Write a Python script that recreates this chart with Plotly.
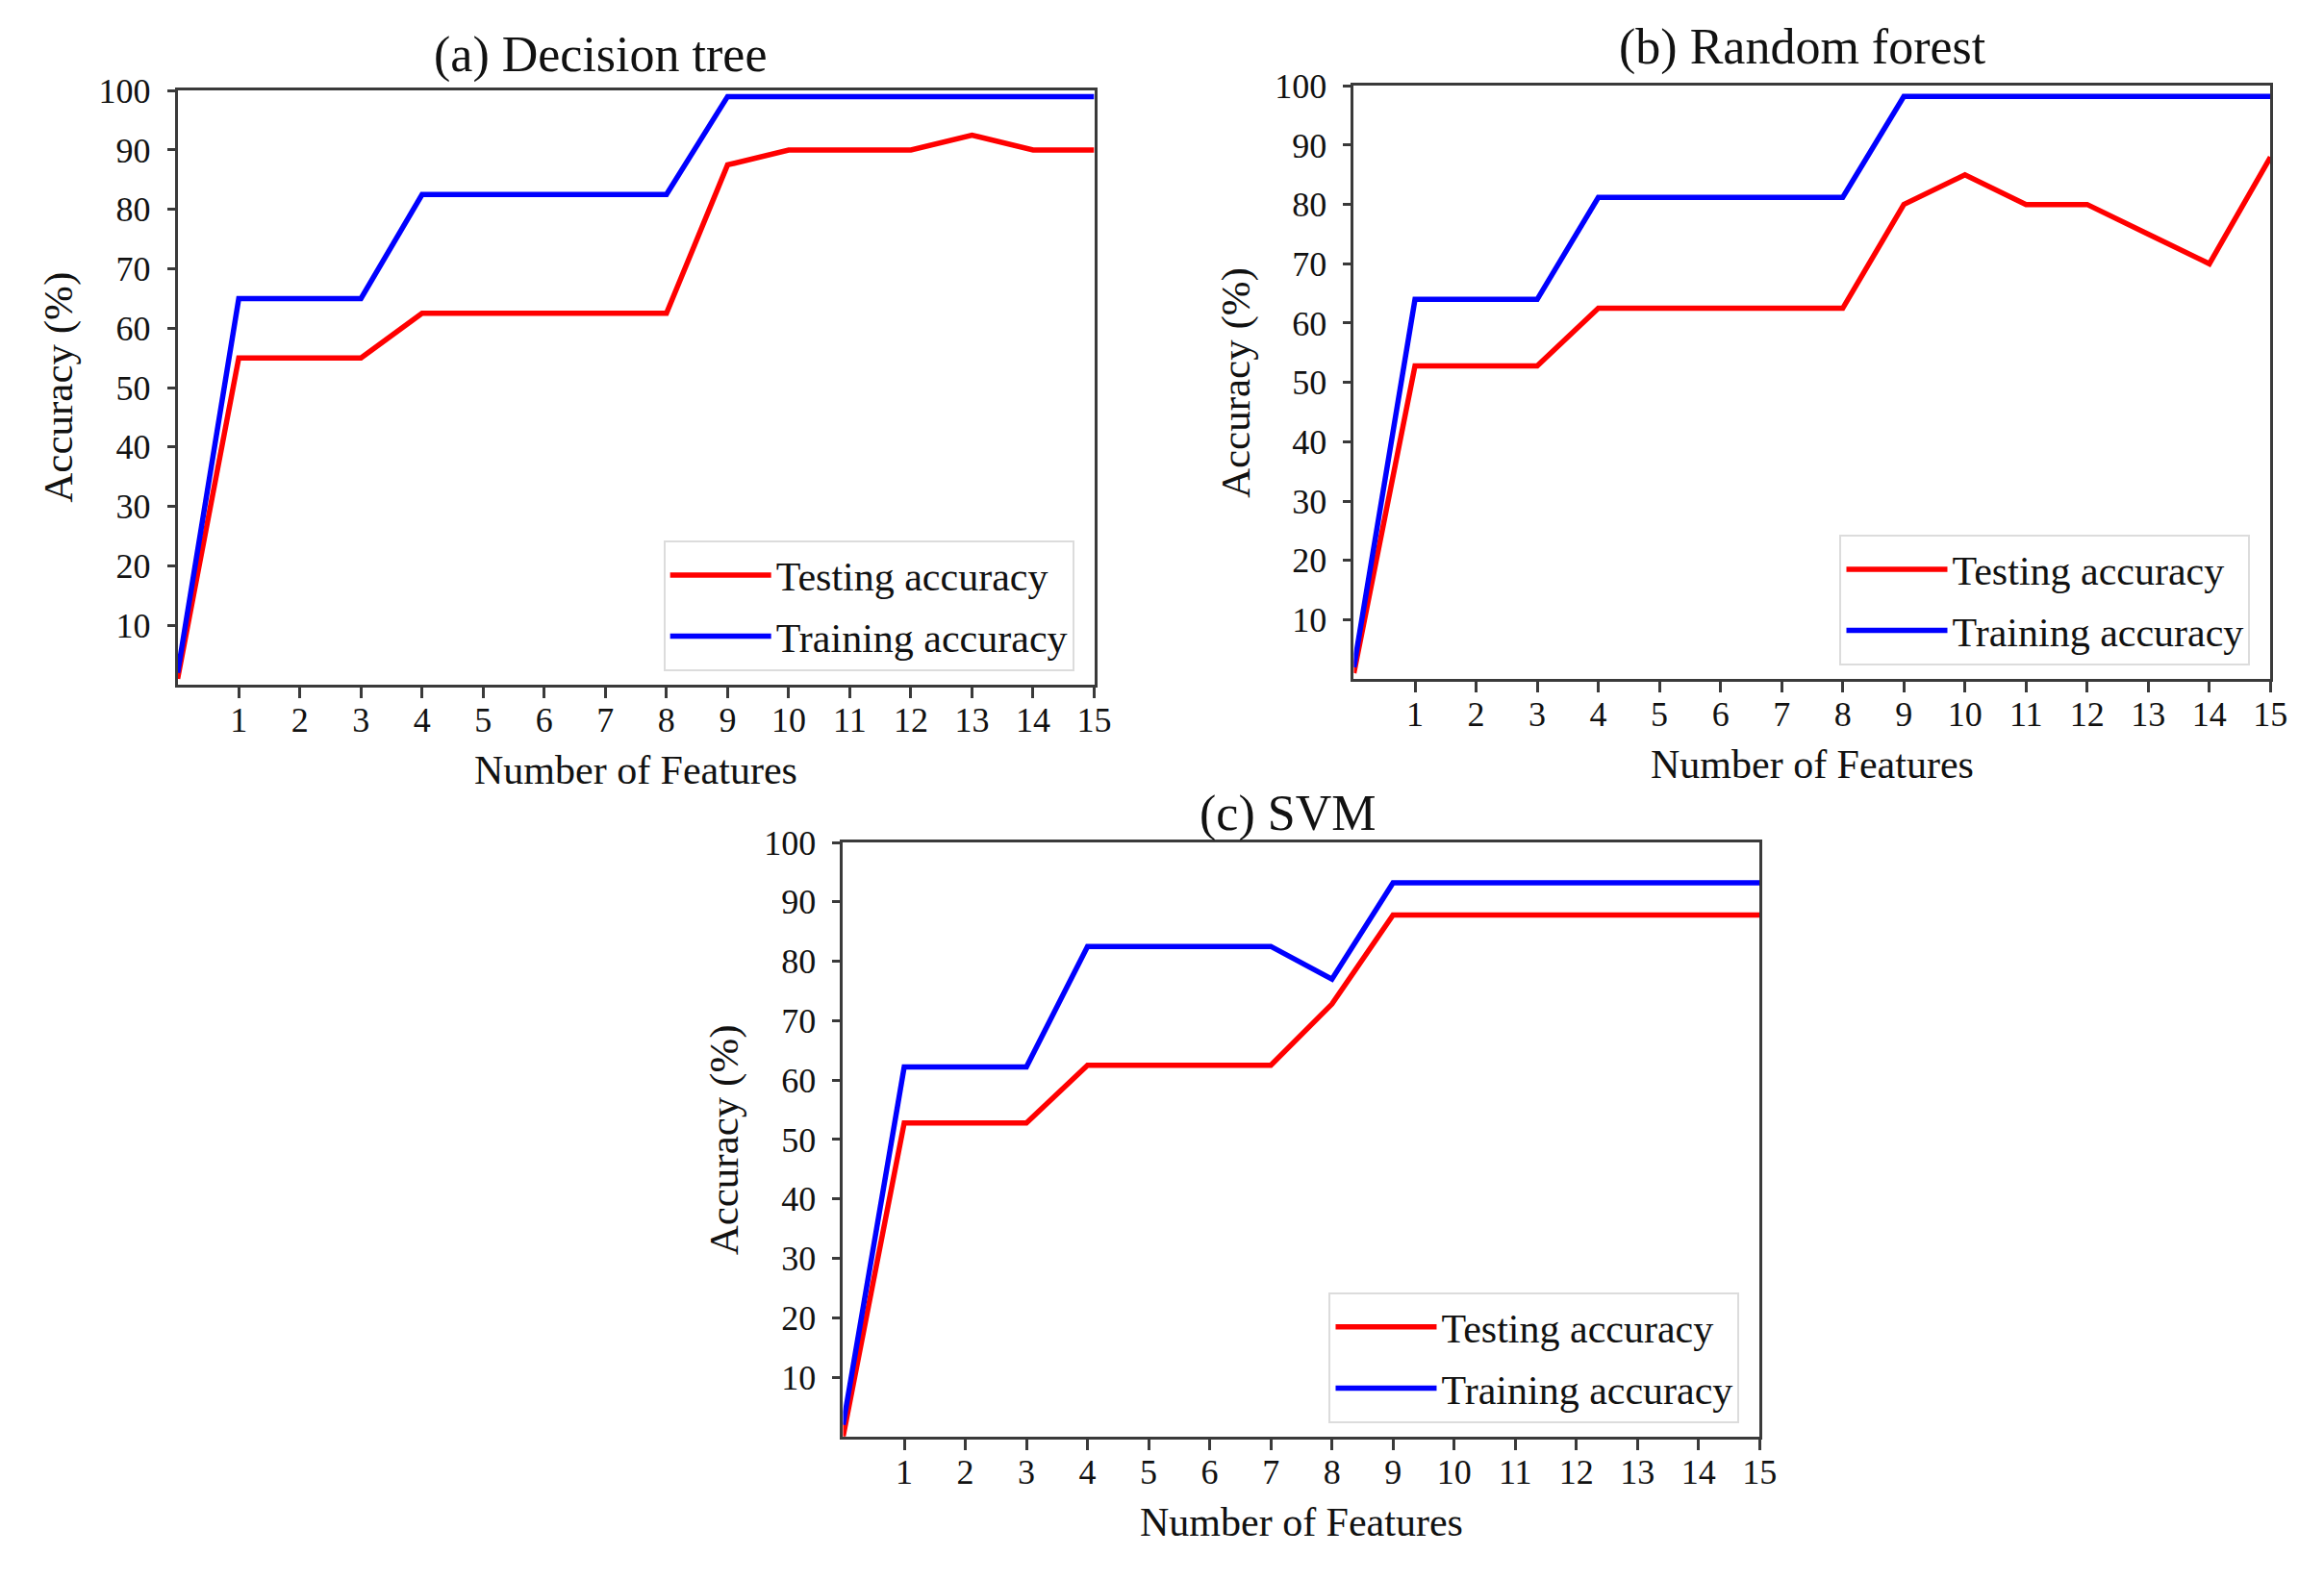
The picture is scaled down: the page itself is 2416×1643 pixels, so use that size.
import plotly.graph_objects as go

# ---------------- data ----------------
features = list(range(0, 16))
x_tick_vals = list(range(1, 16))
y_tick_vals = list(range(10, 101, 10))

panel_titles = ["(a) Decision tree", "(b) Random forest", "(c) SVM"]
series_names = ["Testing accuracy", "Training accuracy"]

dt_testing = [1, 55, 55, 55, 62.5, 62.5, 62.5, 62.5, 62.5, 87.5, 90, 90, 90, 92.5, 90, 90]
dt_training = [2, 65, 65, 65, 82.5, 82.5, 82.5, 82.5, 82.5, 99, 99, 99, 99, 99, 99, 99]

rf_testing = [1, 52.8, 52.8, 52.8, 62.5, 62.5, 62.5, 62.5, 62.5, 80, 85, 80, 80, 75, 70, 88]
rf_training = [2, 64, 64, 64, 81.2, 81.2, 81.2, 81.2, 81.2, 98.2, 98.2, 98.2, 98.2, 98.2, 98.2, 98.2]

svm_testing = [0, 52.8, 52.8, 52.8, 62.5, 62.5, 62.5, 62.5, 72.8, 87.8, 87.8, 87.8, 87.8, 87.8, 87.8, 87.8]
svm_training = [2, 62.2, 62.2, 62.2, 82.5, 82.5, 82.5, 82.5, 77, 93.2, 93.2, 93.2, 93.2, 93.2, 93.2, 93.2]

panels = [
    (dt_testing, dt_training),
    (rf_testing, rf_training),
    (svm_testing, svm_training),
]

# ---------------- layout geometry ----------------
W, H = 2416, 1643
DX, DY = -2, -24          # compensation for page offset
FONT = "Liberation Serif"
RED = "#ff0000"
BLUE = "#0000ff"
AXC = "#3a3a3a"
TXT = "#111111"

# plot areas in pixels: (left, right, top, bottom)
areas = [
    (180, 1140, 92, 717),
    (1412, 2372, 87, 711),
    (877, 1837, 883, 1508),
]
title_pos = [(623, 54), (1882, 46), (1342, 853)]
LEG_INSET_R = 21
LEG_INSET_B = 14


def px(x):
    return (x + DX) / W


def py(y):
    return 1 - (y + DY) / H


fig = go.Figure()

axis_common = dict(
    showline=True, linecolor=AXC, linewidth=3, mirror=True,
    ticks="outside", tickwidth=2.5, tickcolor=AXC,
    showgrid=False, zeroline=False,
    tickfont=dict(family=FONT, size=36, color=TXT),
)

annotations = []
for i, (test, train) in enumerate(panels):
    sfx = "" if i == 0 else str(i + 1)
    leg = "legend" if i == 0 else f"legend{i + 1}"
    xa, ya = "x" + sfx, "y" + sfx
    fig.add_trace(go.Scatter(x=features, y=test, mode="lines", name=series_names[0],
                             line=dict(color=RED, width=5.5), xaxis=xa, yaxis=ya,
                             legend=leg, legendgroup=f"t{i}"))
    fig.add_trace(go.Scatter(x=features, y=train, mode="lines", name=series_names[1],
                             line=dict(color=BLUE, width=5.5), xaxis=xa, yaxis=ya,
                             legend=leg, legendgroup=f"r{i}"))
    l, r, t, b = areas[i]
    fig.layout["xaxis" + sfx] = dict(
        axis_common, domain=[px(l), px(r)], range=[0, 15], tickvals=x_tick_vals,
        anchor=ya, ticklen=11, ticklabelstandoff=-8,
    )
    fig.layout["yaxis" + sfx] = dict(
        axis_common, domain=[py(b), py(t)], range=[0, 100], tickvals=y_tick_vals,
        anchor=xa, ticklen=8, ticklabelstandoff=10,
    )
    fig.layout[leg] = dict(
        x=px(r - LEG_INSET_R), y=py(b - LEG_INSET_B), xanchor="right", yanchor="bottom",
        xref="paper", yref="paper",
        bgcolor="white", bordercolor="#dcdcdc", borderwidth=2,
        font=dict(family=FONT, size=42, color=TXT),
        traceorder="grouped", tracegroupgap=6, itemwidth=105,
    )
    tx, ty = title_pos[i]
    annotations.append(dict(text=panel_titles[i], x=px(tx), y=py(ty), xref="paper", yref="paper",
                            showarrow=False, xanchor="center", yanchor="middle",
                            font=dict(family=FONT, size=52, color=TXT)))
    annotations.append(dict(text="Number of Features", x=px((l + r) / 2), y=py(b + 90),
                            xref="paper", yref="paper", showarrow=False,
                            xanchor="center", yanchor="middle",
                            font=dict(family=FONT, size=42, color=TXT)))
    annotations.append(dict(text="Accuracy (%)", x=px(l - 124), y=py((t + b) / 2),
                            xref="paper", yref="paper", showarrow=False, textangle=-90,
                            xanchor="center", yanchor="middle",
                            font=dict(family=FONT, size=43, color=TXT)))

fig.update_layout(
    width=W, height=H, margin=dict(l=0, r=0, t=0, b=0),
    paper_bgcolor="white", plot_bgcolor="white",
    annotations=annotations, showlegend=True,
)

fig.write_html("out.html")
